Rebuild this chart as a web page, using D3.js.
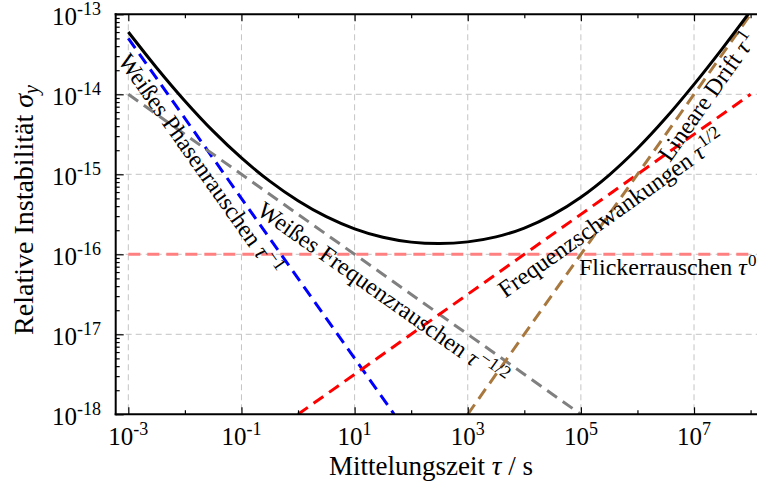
<!DOCTYPE html>
<html><head><meta charset="utf-8">
<script src="https://cdn.jsdelivr.net/npm/d3@7/dist/d3.min.js"></script>
<style>
body{margin:0;background:#fff}
svg{display:block}
text{font-family:"Liberation Serif","Times New Roman",serif;fill:#000}
</style>
</head><body>
<svg id="chart" width="757" height="483"></svg>
<script>
// ---------- DATA ----------
const xMajorExp = [-3, -1, 1, 3, 5, 7];
const xMinorExp = [-2, 0, 2, 4, 6, 8];
const yMajorExp = [-18, -17, -16, -15, -14, -13];

// power-law components: endpoints [tau, sigma]
const weissPhase = [[1e-3, 5e-14], [50, 1e-18]];
const weissFreq  = [[1e-3, 1e-14], [1e5, 1e-18]];
const flicker    = [[1e-3, 1e-16], [1e8, 1e-16]];
const freqSchw   = [[1, 1e-18], [1e8, 1e-14]];
const drift      = [[1e3, 1e-18], [1e8, 1e-13]];

// total instability curve
const totalTau = [1e-3, 3.16e-3, 1e-2, 3.16e-2, 0.1, 0.316, 1, 3.16, 10, 31.6, 100, 316,
  1e3, 3.16e3, 1e4, 3.16e4, 1e5, 3.16e5, 1e6, 3.16e6, 1e7, 3.16e7, 1e8];
const totalSigma = [6.01e-14, 2.15e-14, 8.26e-15, 3.46e-15, 1.60e-15, 8.21e-16, 4.67e-16,
  2.95e-16, 2.08e-16, 1.63e-16, 1.42e-16, 1.36e-16, 1.43e-16, 1.65e-16, 2.13e-16, 3.11e-16,
  5.17e-16, 9.79e-16, 2.10e-15, 5.04e-15, 1.33e-14, 3.73e-14, 1.10e-13];

const labelPhase   = ["Weißes Phasenrauschen ", "τ", "−1"];
const labelFreq    = ["Weißes Frequenzrauschen ", "τ", "−1/2"];
const labelSchw    = ["Frequenzschwankungen ", "τ", "1/2"];
const labelDrift   = ["Lineare Drift ", "τ", "1"];
const labelFlicker = ["Flickerrauschen ", "τ", "0"];

const xTitle = ["Mittelungszeit ", "τ", " / s"];
const yTitle = ["Relative Instabilität ", "σ", "y"];

// ---------- LAYOUT ----------
const svg = d3.select("#chart");
const pL = 115.7, pT = 14.3, pB = 414.3, pR = 761.9;
const x = d3.scaleLog().domain([Math.pow(10, -3.223), Math.pow(10, 8.2)]).range([pL, pR]);
const y = d3.scaleLog().domain([1e-18, 1e-13]).range([pB, pT]);

svg.append("defs").append("clipPath").attr("id", "clip")
  .append("rect").attr("x", pL).attr("y", pT).attr("width", pR - pL).attr("height", pB - pT);

// grid
const grid = svg.append("g").attr("stroke", "#c4c4c4").attr("stroke-width", 1).attr("stroke-dasharray", "6,4");
grid.selectAll(".gx").data(xMajorExp).join("line")
  .attr("x1", d => x(Math.pow(10, d))).attr("x2", d => x(Math.pow(10, d)))
  .attr("y1", pT).attr("y2", pB);
grid.selectAll(".gy").data(yMajorExp.slice(1, -1)).join("line")
  .attr("y1", d => y(Math.pow(10, d))).attr("y2", d => y(Math.pow(10, d)))
  .attr("x1", pL).attr("x2", pR);

// curves
const plot = svg.append("g").attr("clip-path", "url(#clip)");
const seg = d3.line().x(d => x(d[0])).y(d => y(d[1]));
const comps = [
  [flicker, "#ff8080"],
  [weissPhase, "#0000ff"],
  [weissFreq, "#808080"],
  [freqSchw, "#ff0000"],
  [drift, "#a8783f"]
];
comps.forEach(([d, c]) => {
  plot.append("path").attr("d", seg(d)).attr("fill", "none").attr("stroke", c)
    .attr("stroke-width", 3).attr("stroke-dasharray", "12,7");
});
const total = totalTau.map((t, i) => [t, totalSigma[i]]);
plot.append("path").attr("d", d3.line().x(d => x(d[0])).y(d => y(d[1])).curve(d3.curveCatmullRom)(total))
  .attr("fill", "none").attr("stroke", "#000").attr("stroke-width", 3);

// labels along lines
function addLabel(line, along, offset, parts, fs) {
  const p0 = [x(line[0][0]), y(line[0][1])];
  const p1 = [x(line[1][0]), y(line[1][1])];
  const ang = Math.atan2(p1[1] - p0[1], p1[0] - p0[0]) * 180 / Math.PI;
  const g = svg.append("g").attr("transform", `translate(${p0[0]},${p0[1]}) rotate(${ang})`);
  const t = g.append("text").attr("x", along).attr("y", offset).attr("font-size", fs);
  t.append("tspan").text(parts[0]);
  t.append("tspan").attr("font-style", "italic").text(parts[1]);
  t.append("tspan").attr("dx", 1.5).attr("dy", -9).attr("font-size", 18).text(parts[2]);
}
addLabel(weissPhase, 12, 22, labelPhase, 24);
addLabel(weissFreq, 173, 24, labelFreq, 24);
addLabel(freqSchw, 236, 25, labelSchw, 24);
addLabel(drift, 322, 20, labelDrift, 24);
{
  const t = svg.append("text").attr("x", 579).attr("y", 275).attr("font-size", 24);
  t.append("tspan").text(labelFlicker[0]);
  t.append("tspan").attr("font-style", "italic").text(labelFlicker[1]);
  t.append("tspan").attr("dx", 1).attr("dy", -9).attr("font-size", 17).text(labelFlicker[2]);
}

// axes
const yMinor = [];
yMajorExp.slice(0, -1).forEach(e => { for (let k = 2; k <= 9; k++) yMinor.push(k * Math.pow(10, e)); });
const ax = svg.append("g");
ax.append("g").attr("transform", `translate(${pL},0)`)
  .call(d3.axisLeft(y).tickValues(yMajorExp.map(e => Math.pow(10, e))).tickSize(-8).tickFormat(""));
ax.append("g").attr("transform", `translate(${pL},0)`)
  .call(d3.axisLeft(y).tickValues(yMinor).tickSize(-4).tickFormat(""));
ax.append("g").attr("transform", `translate(0,${pB})`)
  .call(d3.axisBottom(x).tickValues(xMajorExp.map(e => Math.pow(10, e))).tickSize(-7).tickFormat(""));
ax.append("g").attr("transform", `translate(0,${pB})`)
  .call(d3.axisBottom(x).tickValues(xMinorExp.map(e => Math.pow(10, e))).tickSize(-4).tickFormat(""));
ax.append("g").attr("transform", `translate(0,${pT})`)
  .call(d3.axisTop(x).tickValues(xMajorExp.map(e => Math.pow(10, e))).tickSize(-7).tickFormat(""));
ax.append("g").attr("transform", `translate(0,${pT})`)
  .call(d3.axisTop(x).tickValues(xMinorExp.map(e => Math.pow(10, e))).tickSize(-4).tickFormat(""));
ax.selectAll(".domain").remove();
ax.selectAll(".tick line").attr("stroke", "#000").attr("stroke-width", 1.2);
// frame lines
svg.append("line").attr("x1", pL).attr("x2", pL).attr("y1", pT - 1).attr("y2", pB + 1).attr("stroke", "#000").attr("stroke-width", 2);
svg.append("line").attr("x1", pL - 1).attr("x2", 757).attr("y1", pB).attr("y2", pB).attr("stroke", "#000").attr("stroke-width", 2);
svg.append("line").attr("x1", pL - 1).attr("x2", 757).attr("y1", pT).attr("y2", pT).attr("stroke", "#000").attr("stroke-width", 2);

// tick labels
yMajorExp.forEach(e => {
  const t = svg.append("text").attr("x", 101).attr("y", y(Math.pow(10, e)) + 11)
    .attr("text-anchor", "end").attr("font-size", 25);
  t.append("tspan").text("10");
  t.append("tspan").attr("dy", -10).attr("font-size", 18).text(String(e));
});
xMajorExp.forEach(e => {
  const t = svg.append("text").attr("x", x(Math.pow(10, e))).attr("y", 444.5)
    .attr("text-anchor", "middle").attr("font-size", 25);
  t.append("tspan").text("10");
  t.append("tspan").attr("dy", -10).attr("font-size", 18).text(String(e));
});

// axis titles
{
  const t = svg.append("text").attr("x", 431).attr("y", 474.5).attr("text-anchor", "middle").attr("font-size", 27);
  t.append("tspan").text(xTitle[0]);
  t.append("tspan").attr("font-style", "italic").text(xTitle[1]);
  t.append("tspan").text(xTitle[2]);
}
{
  const t = svg.append("text").attr("transform", "translate(33,210) rotate(-90)")
    .attr("text-anchor", "middle").attr("font-size", 28);
  t.append("tspan").text(yTitle[0]);
  t.append("tspan").attr("font-style", "italic").text(yTitle[1]);
  t.append("tspan").attr("font-style", "italic").attr("font-size", 20).attr("dy", 5).text(yTitle[2]);
}
</script>
</body></html>
